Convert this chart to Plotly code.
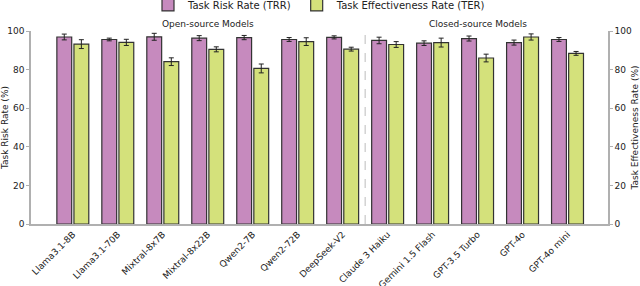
import plotly.graph_objects as go

models = ["Llama3.1-8B", "Llama3.1-70B", "Mixtral-8x7B", "Mixtral-8x22B", "Qwen2-7B",
          "Qwen2-72B", "DeepSeek-V2", "Claude 3 Haiku", "Gemini 1.5 Flash",
          "GPT-3.5 Turbo", "GPT-4o", "GPT-4o mini"]
trr = [96.9, 95.6, 97.0, 96.3, 96.6, 95.6, 96.7, 95.1, 93.7, 96.1, 94.0, 95.6]
trr_err = [1.5, 0.7, 1.8, 1.3, 1.1, 1.0, 0.8, 1.7, 1.2, 1.3, 1.3, 1.0]
ter = [93.2, 94.1, 84.1, 90.5, 80.6, 94.5, 90.6, 93.0, 94.0, 86.0, 96.9, 88.4]
ter_err = [2.3, 1.6, 2.0, 1.3, 2.3, 2.0, 1.0, 1.5, 2.3, 2.0, 1.6, 1.0]
group_labels = ["Open-source Models", "Closed-source Models"]
y_ticks = [0, 20, 40, 60, 80, 100]

font = "DejaVu Sans"
edge = "#333333"
axis_col = "#b0b0b0"

fig = go.Figure()
fig.add_trace(go.Bar(
    x=models, y=trr, name="Task Risk Rate (TRR)",
    marker=dict(color="#C68ABE", line=dict(color=edge, width=1.2)),
    error_y=dict(type="data", array=trr_err, color="#222222", thickness=1, width=2.5),
    width=0.33, offset=-0.355,
))
fig.add_trace(go.Bar(
    x=models, y=ter, name="Task Effectiveness Rate (TER)",
    marker=dict(color="#D4E17B", line=dict(color=edge, width=1.2)),
    error_y=dict(type="data", array=ter_err, color="#222222", thickness=1, width=2.5),
    width=0.33, offset=0.025,
))
fig.add_trace(go.Scatter(x=[models[0]], y=[None], yaxis="y2", showlegend=False,
                         hoverinfo="skip", mode="markers"))

fig.add_shape(type="line", xref="x", yref="y", x0=6.5, x1=6.5, y0=0, y1=100,
              line=dict(color="#aaaaaa", width=0.8, dash="dash"))
fig.add_annotation(x=3, y=1.0, xref="x", yref="paper", yanchor="bottom",
                   text=group_labels[0], showarrow=False,
                   font=dict(family=font, size=9, color="#222"))
fig.add_annotation(x=9, y=1.0, xref="x", yref="paper", yanchor="bottom",
                   text=group_labels[1], showarrow=False,
                   font=dict(family=font, size=9, color="#222"))

fig.update_layout(
    width=640, height=286, autosize=False,
    margin=dict(l=31, r=32, t=31, b=62, autoexpand=False),
    plot_bgcolor="white", paper_bgcolor="white",
    font=dict(family=font, size=9, color="#222"),
    barmode="group",
    showlegend=True,
    legend=dict(orientation="h", x=0.5, xanchor="center", y=1.135, yanchor="middle",
                yref="paper", font=dict(family=font, size=10), tracegroupgap=0,
                itemwidth=30),
    xaxis=dict(range=[-0.93, 11.9], tickangle=-45, showline=True, linecolor=axis_col,
               linewidth=1.5, ticks="", showgrid=False, tickfont=dict(size=9),
               automargin=False),
    yaxis=dict(range=[0, 100], tickvals=y_ticks, showline=True,
               linecolor=axis_col, linewidth=1.5, ticks="outside", ticklen=3,
               tickcolor=axis_col, showgrid=False, zeroline=False, automargin=False,
               title=dict(text="Task Risk Rate (%)", standoff=2, font=dict(size=9)),
               tickfont=dict(size=9)),
    yaxis2=dict(range=[0, 100], tickvals=y_ticks, overlaying="y",
                side="right", showline=True, linecolor=axis_col, linewidth=1.5,
                ticks="outside", ticklen=3, tickcolor=axis_col, showgrid=False,
                zeroline=False, automargin=False,
                title=dict(text="Task Effectiveness Rate (%)", standoff=2, font=dict(size=9)),
                tickfont=dict(size=9)),
)

post = """
document.body.style.margin='0';
document.body.style.overflow='hidden';
var gd = document.getElementById('{plot_id}');
function fixLayout() {
  Plotly.relayout(gd, {autosize: false, width: 640, height: 286,
                       'margin.l': 31, 'margin.r': 32, 'margin.t': 31, 'margin.b': 62,
                       'margin.autoexpand': false});
}
fixLayout();
window.addEventListener('resize', fixLayout);
"""
fig.write_html("out.html",
               config={"displayModeBar": False, "responsive": False},
               post_script=post)
